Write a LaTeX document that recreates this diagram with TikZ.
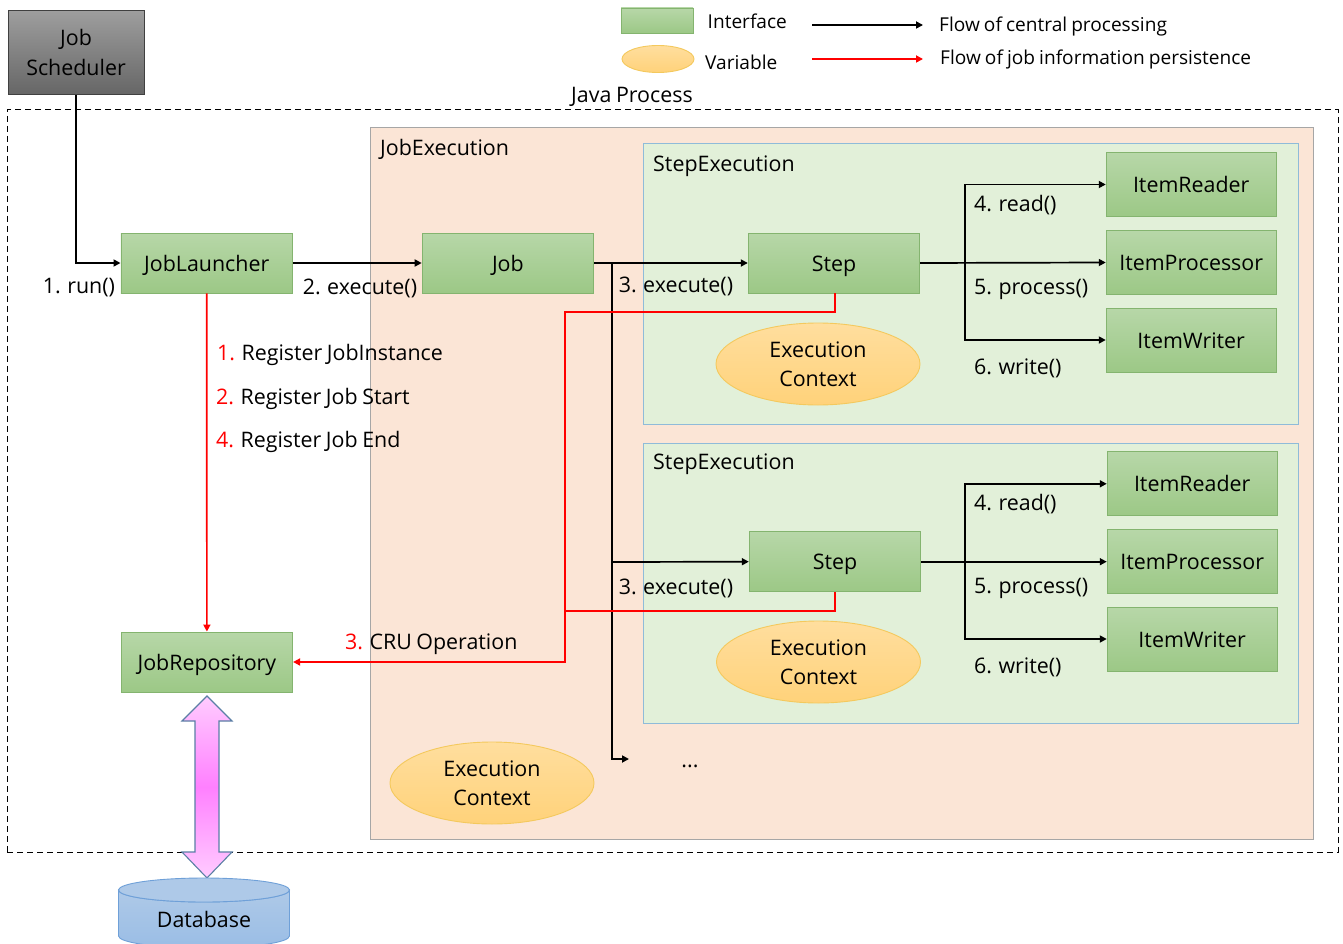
\documentclass[tikz,border=0pt]{standalone}
\usepackage{fontspec}
\setmainfont[WordSpace=0.82]{Open Sans}
\usetikzlibrary{arrows.meta,shapes.geometric,calc}
\definecolor{ifTop}{HTML}{B7D7A8}
\definecolor{ifBot}{HTML}{9CC886}
\definecolor{ifEdge}{HTML}{84B46F}
\definecolor{varTop}{HTML}{FFDE9E}
\definecolor{varBot}{HTML}{FFD27A}
\definecolor{varEdge}{HTML}{F4C95D}
\definecolor{jobBg}{HTML}{FBE5D6}
\definecolor{stepBg}{HTML}{E2F0D9}
\definecolor{stepEdge}{HTML}{8FBBD9}
\definecolor{dbTop}{HTML}{AEC9E8}
\definecolor{dbBot}{HTML}{9ABDE5}
\definecolor{dbEdge}{HTML}{6FA0D8}
\definecolor{arrEdge}{HTML}{5B7FA5}
\definecolor{arrEnd}{HTML}{FFCCFF}
\definecolor{arrMid}{HTML}{FF80FF}
\tikzset{
  x=1pt,y=-1pt,
  txt/.style={font=\fontsize{21.4}{29.5}\selectfont,text=black,inner sep=0pt,align=center},
  stxt/.style={font=\fontsize{19.1}{24}\selectfont,text=black,inner sep=0pt},
  iface/.style={txt,rectangle,draw=ifEdge,line width=0.9pt,top color=ifTop,bottom color=ifBot,minimum width=171.5pt,minimum height=60pt,text height=20pt,text depth=4pt},
  item/.style={iface,minimum width=170pt,minimum height=64pt},
  var/.style={txt,ellipse,draw=varEdge,line width=0.9pt,top color=varTop,bottom color=varBot,minimum width=204pt,minimum height=82pt},
  blk/.style={draw=black,line width=1.7pt,-{Triangle[length=7pt,width=7pt]}},
  blkn/.style={draw=black,line width=1.7pt},
  redl/.style={draw=red,line width=1.7pt,-{Triangle[length=7pt,width=7pt]}},
  redn/.style={draw=red,line width=1.7pt},
  lbl/.style={txt,anchor=west},
}
\newcommand{\rn}[1]{\textcolor{red}{#1}}
\begin{document}
\begin{tikzpicture}
\useasboundingbox (0,0) rectangle (1343,944);
\fill[white] (0,0) rectangle (1343,944);
% java process
\node[draw=black,line width=1pt,minimum width=1331pt,minimum height=742pt,inner sep=0pt,dash pattern=on 6pt off 4pt] (java) at (672.7,481) {};
\node[txt,anchor=center] (javalbl) at (632,96.5) {Java Process};
% job execution
\node[draw=black!35,fill=jobBg,line width=0.9pt,minimum width=943pt,minimum height=712pt,inner sep=0pt] (jobexec) at (842.4,483) {};
\node[lbl] (jobexeclbl) at (380,149.5) {JobExecution};
% step execution
\node[draw=stepEdge,fill=stepBg,line width=0.9pt,minimum width=655pt,minimum height=281pt,inner sep=0pt] (se1) at (971,284.2) {};
\node[lbl] (se1lbl) at (653,166.5) {StepExecution};
\node[draw=stepEdge,fill=stepBg,line width=0.9pt,minimum width=655pt,minimum height=280pt,inner sep=0pt] (se2) at (971,583) {};
\node[lbl] (se2lbl) at (653,464.5) {StepExecution};
% scheduler
\node[txt,draw=black!75,line width=0.9pt,top color=black!38,bottom color=black!60,minimum width=136pt,minimum height=84pt] (sched) at (76,52.5) {Job\\Scheduler};
% interfaces
\node[iface] (launcher) at (206.7,263) {JobLauncher};
\node[iface] (job) at (507.9,263) {Job};
\node[iface] (step1) at (834,263) {Step};
\node[iface] (step2) at (835,561.7) {Step};
\node[iface] (repo) at (206.9,662) {JobRepository};
\node[item] (r1) at (1191.2,184.5) {ItemReader};
\node[item] (p1) at (1191.2,262.5) {ItemProcessor};
\node[item] (w1) at (1191.2,340) {ItemWriter};
\node[item] (r2) at (1192.2,483.8) {ItemReader};
\node[item] (p2) at (1192.2,561.7) {ItemProcessor};
\node[item] (w2) at (1192.2,639) {ItemWriter};
% variables
\node[var] (ec1) at (818,364) {Execution\\Context};
\node[var] (ec2) at (818.5,662) {Execution\\Context};
\node[var] (ec3) at (492,783) {Execution\\Context};
% legend
\node[iface,minimum width=72pt,minimum height=25pt,text height=0pt,text depth=0pt] (legi) at (657,20.5) {};
\node[stxt,anchor=west] (legil) at (707.5,21) {Interface};
\node[var,minimum width=72pt,minimum height=27pt] (legv) at (658,59) {};
\node[stxt,anchor=west] (legvl) at (705,62) {Variable};
\coordinate (lb1) at (812,25); \coordinate (lb2) at (923,25);
\coordinate (lr1) at (812,59); \coordinate (lr2) at (923,59);
\draw[blk] (lb1) -- (lb2);
\draw[redl] (lr1) -- (lr2);
\node[stxt,anchor=west] (legbl) at (939,26) {Flow of central processing};
\node[stxt,anchor=west] (legrl) at (940,59.5) {Flow of job information persistence};
% black flows
\coordinate (jj) at (612,263);
\coordinate (jj2) at (612,562);
\coordinate (dotsend) at (629,759);
\coordinate (dotsbend) at (612,759);
\draw[blk] (sched.south) |- (launcher.west);
\draw[blk] (launcher.east) -- (job.west);
\draw[blk] (job.east) -- (step1.west);
\draw[blkn] (jj) -- (jj2);
\draw[blk] (jj2) -- (step2.west);
\draw[blk] (jj2) -- (dotsbend) -- (dotsend);
\coordinate (a1) at (965,263);
\coordinate (a2) at (965,562);
\draw[blk] (step1.east) -- (p1.west);
\draw[blk] (a1) |- (r1.west);
\draw[blk] (a1) |- (w1.west);
\draw[blk] (step2.east) -- (p2.west);
\draw[blk] (a2) |- (r2.west);
\draw[blk] (a2) |- (w2.west);
% red flows
\coordinate (rb1) at (835,312);
\coordinate (rb2) at (835,611);
\coordinate (rv1) at (565,312);
\coordinate (rv2) at (565,611);
\coordinate (rv3) at (565,662);
\draw[redl] (launcher.south) -- (repo.north);
\draw[redl] (step1.south -| rb1) -- (rb1) -- (rv1) -- (rv3) -- (repo.east);
\draw[redn] (step2.south -| rb2) -- (rb2) -- (rv2);
% double arrow
\path[draw=arrEdge,line width=1.1pt,top color=arrEnd,bottom color=arrEnd,middle color=arrMid] (207,696) -- (232,721) -- (219,721) -- (219,852) -- (232,852) -- (207,878) -- (182,852) -- (195,852) -- (195,721) -- (182,721) -- cycle;
% database
\path[draw=dbEdge,line width=0.9pt,top color=dbTop,bottom color=dbBot] (118.5,890) arc[start angle=180,end angle=360,x radius=85.5pt,y radius=12pt] -- (289.5,936) arc[start angle=0,end angle=-180,x radius=85.5pt,y radius=12pt] -- cycle;
\path[draw=dbEdge,line width=0.9pt,fill=dbTop] (204,890) ellipse[x radius=85.5pt,y radius=12pt];
\node[txt] (db) at (204,919) {Database};
% labels
\node[txt] (l1) at (79,288) {1. run()};
\node[txt] (l2) at (360,288) {2. execute()};
\node[txt] (l3a) at (676,286) {3. execute()};
\node[txt] (l3b) at (676,588) {3. execute()};
\node[lbl] (lr) at (974,205) {4. read()};
\node[lbl] (lp) at (974,289) {5. process()};
\node[lbl] (lw) at (974,368.5) {6. write()};
\node[lbl] (lr2) at (974,504) {4. read()};
\node[lbl] (lp2) at (974,588) {5. process()};
\node[lbl] (lw2) at (974,667) {6. write()};
\node[lbl] (reg1) at (217,354.5) {\rn{1.} Register JobInstance};
\node[lbl] (reg2) at (216,398.5) {\rn{2.} Register Job Start};
\node[lbl] (reg3) at (216,441.5) {\rn{4.} Register Job End};
\node[lbl] (cru) at (345,644) {\rn{3.} CRU Operation};
\node[txt] (dots) at (690,766) {...};
\end{tikzpicture}
\end{document}
